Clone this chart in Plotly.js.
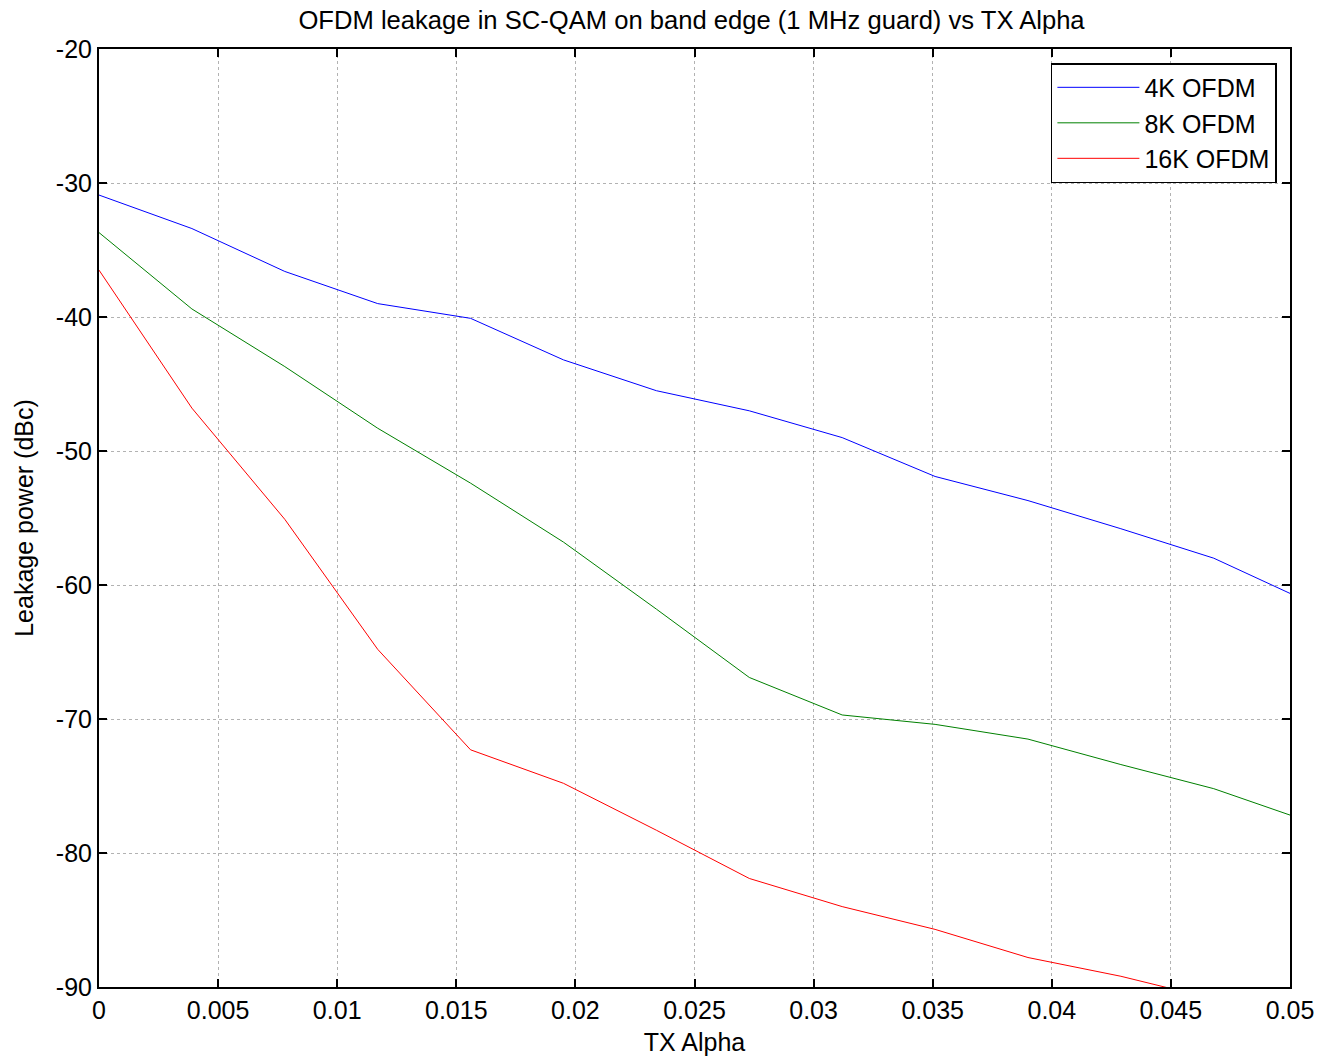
<!DOCTYPE html>
<html>
<head>
<meta charset="utf-8">
<script src="https://cdn.plot.ly/plotly-3.0.1.min.js"></script>
<style>html,body{margin:0;padding:0;background:#fff;}#chart{width:1317px;height:1059px;}</style>
</head>
<body>
<div id="chart"></div>
<script>
// Data
const txAlpha = [0, 0.0039, 0.0078, 0.0117, 0.0156, 0.0195, 0.0234, 0.0273, 0.0312, 0.0351, 0.039, 0.0429, 0.0468, 0.0507];
const ofdm4k  = [-30.9, -33.4, -36.6, -39.0, -40.1, -43.2, -45.5, -47.0, -49.0, -51.9, -53.7, -55.8, -58.0, -61.2];
const ofdm8k  = [-33.7, -39.4, -43.7, -48.3, -52.4, -56.8, -61.8, -66.9, -69.7, -70.4, -71.5, -73.4, -75.2, -77.6];
const ofdm16k = [-36.5, -46.8, -55.1, -64.8, -72.3, -74.8, -78.3, -81.9, -84.0, -85.7, -87.8, -89.2, -90.9, -92.5];
const seriesNames = ['4K OFDM', '8K OFDM', '16K OFDM'];
const seriesColors = ['#0000ff', '#008000', '#ff0000'];
const xTicks = [0, 0.005, 0.01, 0.015, 0.02, 0.025, 0.03, 0.035, 0.04, 0.045, 0.05];
const xTickText = ['0', '0.005', '0.01', '0.015', '0.02', '0.025', '0.03', '0.035', '0.04', '0.045', '0.05'];
const yTicks = [-90, -80, -70, -60, -50, -40, -30, -20];

const ys = [ofdm4k, ofdm8k, ofdm16k];
const traces = ys.map((y, i) => ({
  x: txAlpha, y: y, type: 'scatter', mode: 'lines', name: seriesNames[i],
  line: {color: seriesColors[i], width: 1}
}));

const font = {family: 'Liberation Sans, Arial, sans-serif', size: 25, color: '#000'};
const titleFont = {family: 'Liberation Sans, Arial, sans-serif', size: 25.6, color: '#000'};
const axisCommon = {
  showline: true, linecolor: '#000', linewidth: 2, mirror: 'ticks',
  ticks: 'inside', ticklen: 8, tickwidth: 2, tickcolor: '#000',
  showgrid: true, gridcolor: 'rgba(0,0,0,0.3)', griddash: 'dot', gridwidth: 1,
  zeroline: false, tickfont: font
};
const layout = {
  width: 1317, height: 1059,
  margin: {l: 99, r: 27, t: 49, b: 72},
  paper_bgcolor: '#fff', plot_bgcolor: '#fff',
  font: font,
  title: {text: 'OFDM leakage in SC-QAM on band edge (1 MHz guard) vs TX Alpha', xref: 'paper', x: 0.4975, xanchor: 'center', yref: 'container', y: 0.981, yanchor: 'middle', font: titleFont},
  xaxis: Object.assign({}, axisCommon, {
    range: [0, 0.05], tickvals: xTicks, ticktext: xTickText,
    title: {text: 'TX Alpha', font: font, standoff: 10}
  }),
  yaxis: Object.assign({}, axisCommon, {
    range: [-90, -20], tickvals: yTicks, ticktext: yTicks.map(String),
    title: {text: 'Leakage power (dBc)', font: font, standoff: 15}
  }),
  showlegend: true,
  legend: {
    x: 0.989, xanchor: 'right', y: 0.985, yanchor: 'top',
    bgcolor: '#fff', bordercolor: '#000', borderwidth: 1.5,
    font: font, itemwidth: 82, tracegroupgap: 0
  }
};
Plotly.newPlot('chart', traces, layout, {displayModeBar: false, staticPlot: true});
</script>
</body>
</html>
